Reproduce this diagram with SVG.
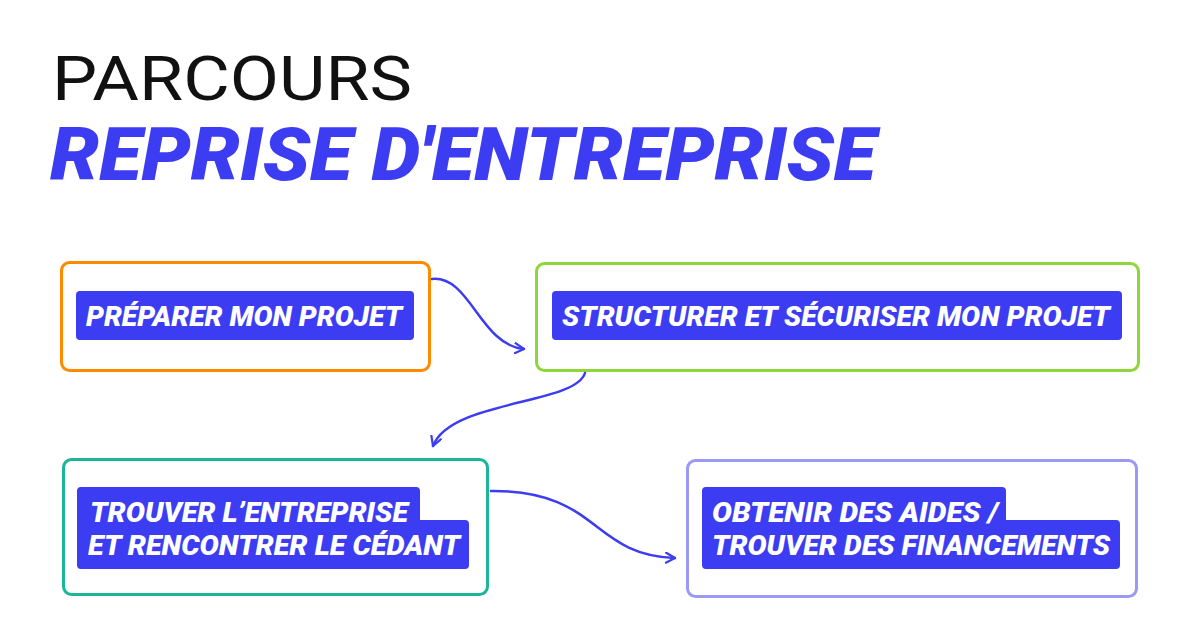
<svg xmlns="http://www.w3.org/2000/svg" width="1200" height="630" viewBox="0 0 1200 630">
<style>
.box{fill:#fff;stroke-width:3}
.lab{fill:#3c3cf2}
.lt{font-family:Roboto,"Liberation Sans",sans-serif;font-weight:900;font-style:italic;font-size:28px;fill:#fff}
.con{fill:none;stroke:#3c3cf2;stroke-width:2.5;stroke-linecap:round}
</style>
<defs>
<marker id="ar" viewBox="0 0 12 12" refX="10" refY="6" markerWidth="12" markerHeight="12" markerUnits="userSpaceOnUse" orient="auto">
<path d="M1,1 L10,6 L1,11" fill="none" stroke="#3c3cf2" stroke-width="2.2" stroke-linecap="round" stroke-linejoin="round"/>
</marker>
</defs>
<rect width="1200" height="630" fill="#fff"/>
<text x="52" y="100" font-family="Roboto,'Liberation Sans',sans-serif" font-size="62" fill="#111" textLength="360" lengthAdjust="spacingAndGlyphs">PARCOURS</text>
<text x="50" y="180" font-family="Roboto,'Liberation Sans',sans-serif" font-weight="900" font-style="italic" font-size="74" fill="#3c3cf2" textLength="826" lengthAdjust="spacingAndGlyphs">REPRISE D'ENTREPRISE</text>
<g id="n1">
<rect class="box" x="61.5" y="262.5" width="368" height="108" rx="8" stroke="#ff8a00"/>
<rect class="lab" x="76" y="291" width="338" height="49" rx="4"/>
<text class="lt" x="86" y="326" textLength="316" lengthAdjust="spacingAndGlyphs">PRÉPARER MON PROJET</text>
</g>
<g id="n2">
<rect class="box" x="536.5" y="263.5" width="602" height="107" rx="8" stroke="#8fd63a"/>
<rect class="lab" x="552" y="291" width="570" height="49" rx="4"/>
<text class="lt" x="562" y="326" textLength="548" lengthAdjust="spacingAndGlyphs">STRUCTURER ET SÉCURISER MON PROJET</text>
</g>
<g id="n3">
<rect class="box" x="63.5" y="459.5" width="424" height="135" rx="8" stroke="#1bb59a"/>
<path class="lab" d="M81,487 H416 a4,4 0 0 1 4,4 V520 H465 a4,4 0 0 1 4,4 V565 a4,4 0 0 1 -4,4 H81 a4,4 0 0 1 -4,-4 V491 a4,4 0 0 1 4,-4 Z"/>
<text class="lt" x="90" y="522" textLength="318" lengthAdjust="spacingAndGlyphs">TROUVER L’ENTREPRISE</text>
<text class="lt" x="88" y="555" textLength="372" lengthAdjust="spacingAndGlyphs">ET RENCONTRER LE CÉDANT</text>
</g>
<g id="n4">
<rect class="box" x="687.5" y="460.5" width="449" height="136" rx="8" stroke="#9a9af5"/>
<path class="lab" d="M706,487 H1002 a4,4 0 0 1 4,4 V520 H1116 a4,4 0 0 1 4,4 V565 a4,4 0 0 1 -4,4 H706 a4,4 0 0 1 -4,-4 V491 a4,4 0 0 1 4,-4 Z"/>
<text class="lt" x="712" y="522" textLength="286" lengthAdjust="spacingAndGlyphs">OBTENIR DES AIDES /</text>
<text class="lt" x="712" y="555" textLength="398" lengthAdjust="spacingAndGlyphs">TROUVER DES FINANCEMENTS</text>
</g>
<g id="connectors">
<path class="con" marker-end="url(#ar)" d="M432,279 C470,275 480,345 524,349"/>
<path class="con" marker-end="url(#ar)" d="M585,373 C575,405 450,400 433,446"/>
<path class="con" marker-end="url(#ar)" d="M491,491 C600,490 590,555 675,558"/>
</g>
</svg>
